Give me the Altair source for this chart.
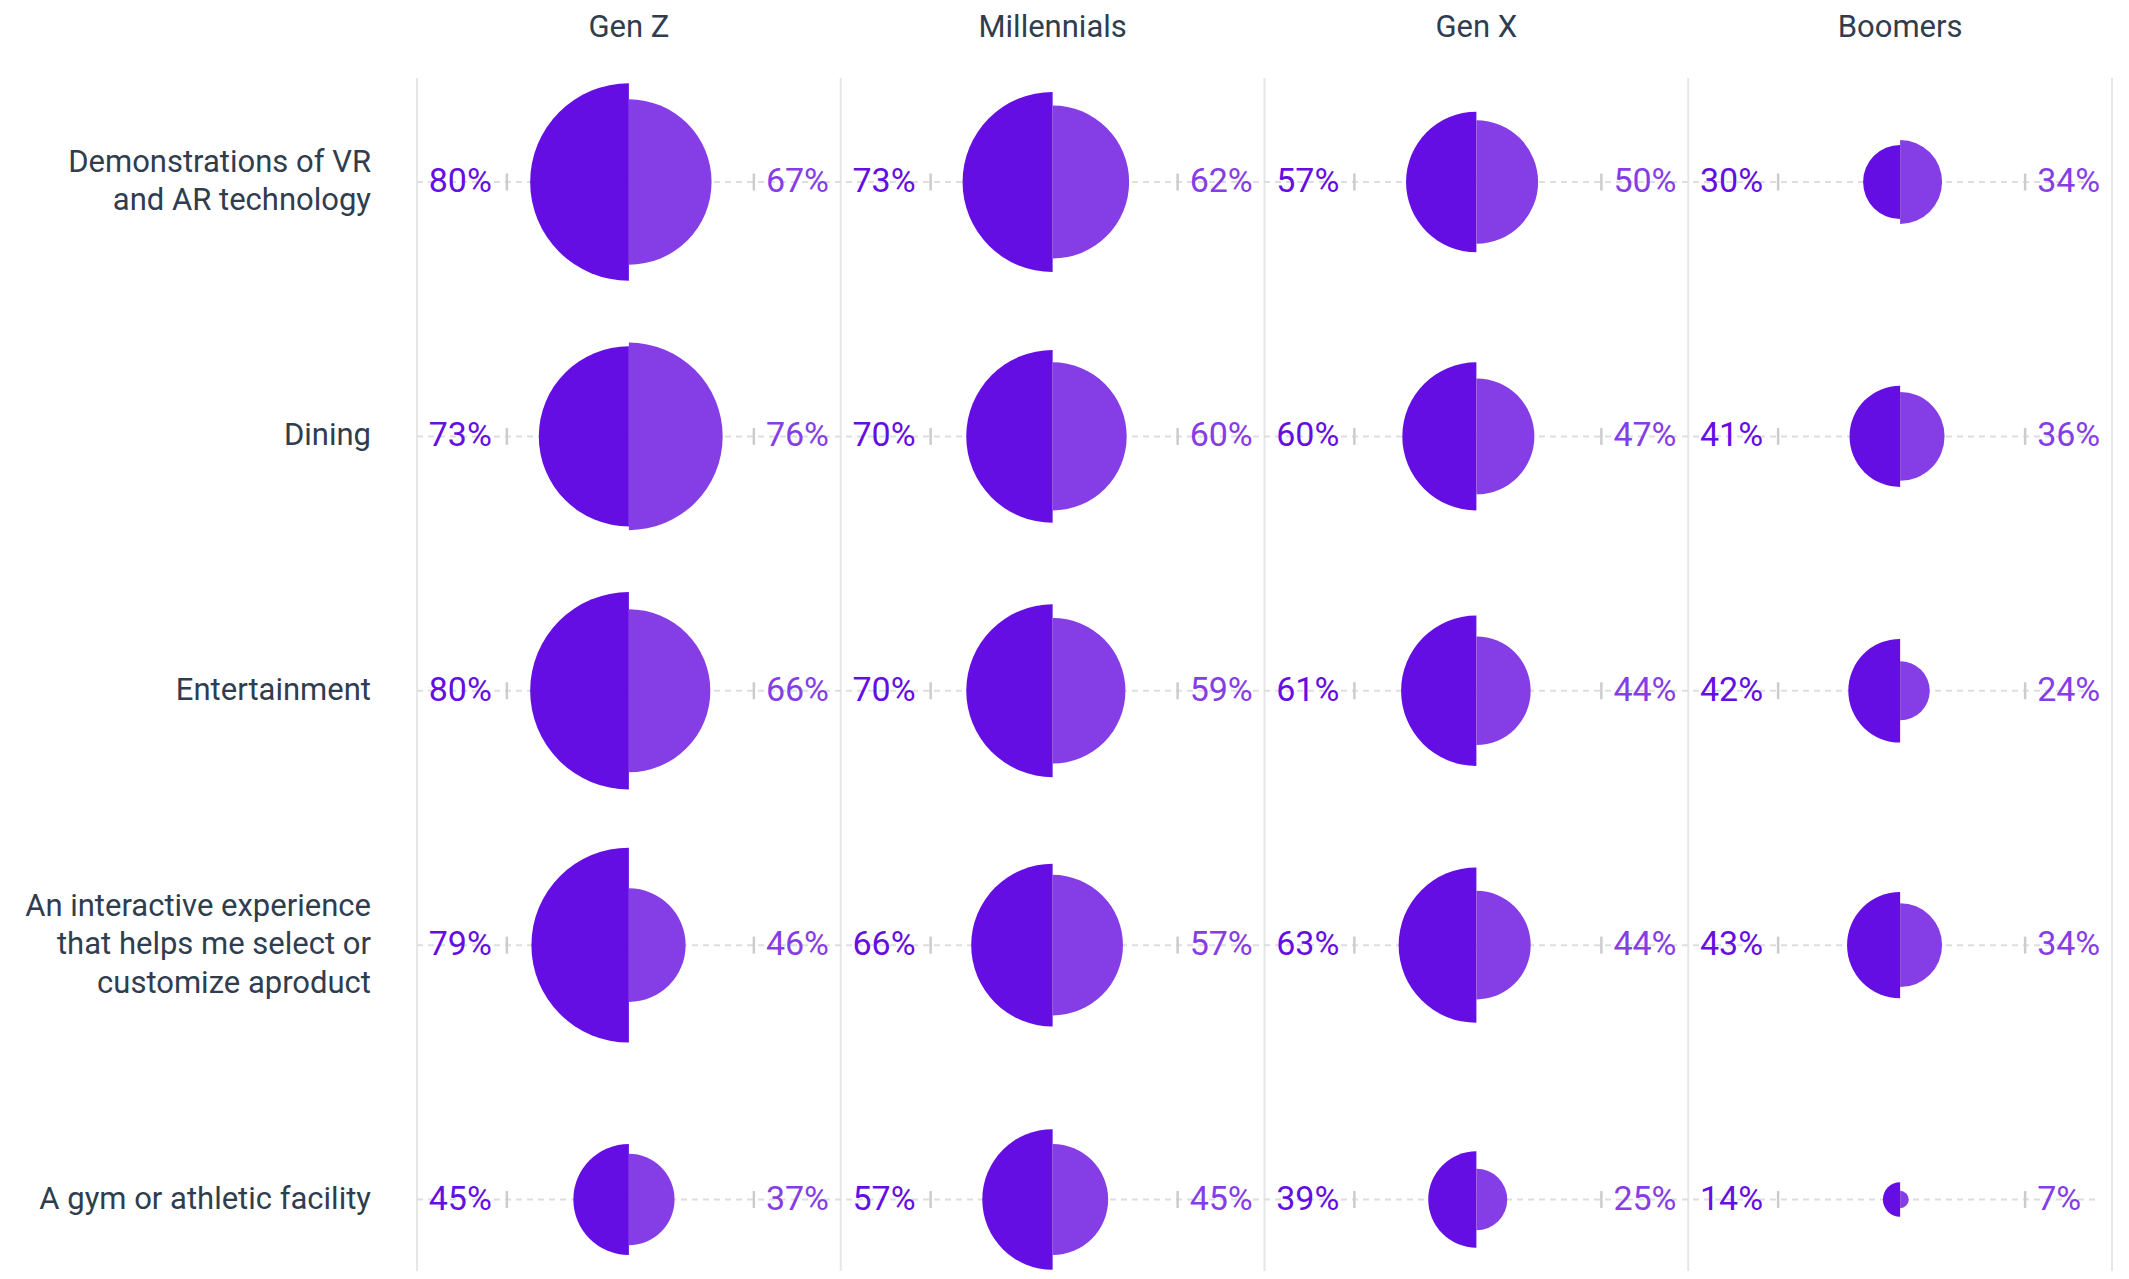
import math
import altair as alt
import pandas as pd

generations = ["Gen Z", "Millennials", "Gen X", "Boomers"]
categories = [
    "Demonstrations of VR\nand AR technology",
    "Dining",
    "Entertainment",
    "An interactive experience\nthat helps me select or\ncustomize aproduct",
    "A gym or athletic facility",
]
# rows follow categories, columns follow generations
left_values = [
    [80, 73, 57, 30],
    [73, 70, 60, 41],
    [80, 70, 61, 42],
    [79, 66, 63, 43],
    [45, 57, 39, 14],
]
right_values = [
    [67, 62, 50, 34],
    [76, 60, 47, 36],
    [66, 59, 44, 24],
    [46, 57, 44, 34],
    [37, 45, 25, 7],
]

records = []
for i, cat in enumerate(categories):
    for j, gen in enumerate(generations):
        lv = left_values[i][j]
        rv = right_values[i][j]
        records.append({"cat": cat, "gen": gen, "left": lv, "right": rv,
                        "left_label": f"{lv}%", "right_label": f"{rv}%"})
df = pd.DataFrame(records)
gen_df = pd.DataFrame({"gen": generations})
last_df = pd.DataFrame({"gen": [generations[-1]]})
row_df = pd.DataFrame({"cat": categories, "start": generations[0], "end": generations[-1]})

DARK = "#650ee3"
LIGHT = "#853de6"
TXT = "#2f3d4e"
FONT = "Roboto"
STEP = 423.75
HALF = STEP / 2
LINE_H = 38.5

xscale = alt.Scale(type="point", domain=generations, range=[409, 2104], padding=0.5)
yscale = alt.Scale(type="point", domain=categories, range=[174, 1191.5], padding=0)
rscale = alt.Scale(type="linear", domain=[0, 100], range=[0, 123.4])

X = alt.X("gen:N", scale=xscale, axis=None)
Y = alt.Y("cat:N", scale=yscale, axis=None)

separators = alt.Chart(gen_df).mark_rule(xOffset=-HALF, color="#e6e6e6", strokeWidth=2).encode(
    x=X, y=alt.value(70), y2=alt.value(1263)
)
separator_end = alt.Chart(last_df).mark_rule(xOffset=HALF, color="#e6e6e6", strokeWidth=2).encode(
    x=X, y=alt.value(70), y2=alt.value(1263)
)
dashes = alt.Chart(row_df).mark_rule(
    xOffset=-HALF, x2Offset=HALF - 12, color="#dedede", strokeWidth=2, strokeDash=[6, 5]
).encode(
    x=alt.X("start:N", scale=xscale, axis=None), x2="end:N", y=Y
)
tick_left = alt.Chart(df).mark_rule(xOffset=-122, yOffset=-8.5, y2Offset=8.5, color="#cccccc", strokeWidth=2.5).encode(
    x=X, y=Y, y2="cat:N"
)
tick_right = alt.Chart(df).mark_rule(xOffset=125, yOffset=-8.5, y2Offset=8.5, color="#cccccc", strokeWidth=2.5).encode(
    x=X, y=Y, y2="cat:N"
)
arc_left = alt.Chart(df).mark_arc(theta=math.pi, theta2=2 * math.pi, color=DARK).encode(
    x=X, y=Y, radius=alt.Radius("left:Q", scale=rscale, stack=None)
)
arc_right = alt.Chart(df).mark_arc(theta=0, theta2=math.pi, color=LIGHT).encode(
    x=X, y=Y, radius=alt.Radius("right:Q", scale=rscale, stack=None)
)
label_left = alt.Chart(df).mark_text(align="right", baseline="middle", dx=-137, fontSize=34, font=FONT, color=DARK).encode(
    x=X, y=Y, text="left_label:N"
)
label_right = alt.Chart(df).mark_text(align="left", baseline="middle", dx=137, fontSize=34, font=FONT, color=LIGHT).encode(
    x=X, y=Y, text="right_label:N"
)
cat_labels = alt.Chart(row_df).mark_text(
    align="right", baseline="middle", fontSize=31, lineHeight=LINE_H, lineBreak="\n", font=FONT, color=TXT,
    dy=alt.ExprRef(expr=f"-(length(split(datum.cat, '\\n')) - 1) * {LINE_H / 2}")
).encode(x=alt.value(363), y=Y, text="cat:N")
headers = alt.Chart(gen_df).mark_text(
    align="center", baseline="alphabetic", fontSize=31, font=FONT, color=TXT
).encode(x=X, y=alt.value(29), text="gen:N")

chart = alt.layer(
    separators, separator_end, dashes, tick_left, tick_right,
    arc_left, arc_right, label_left, label_right, cat_labels, headers
).properties(
    width=2113, height=1263, padding=0, background="white",
    autosize=alt.AutoSizeParams(type="none")
).configure_view(stroke=None)

chart.save("out.html", embed_options={"renderer": "svg", "actions": False})
